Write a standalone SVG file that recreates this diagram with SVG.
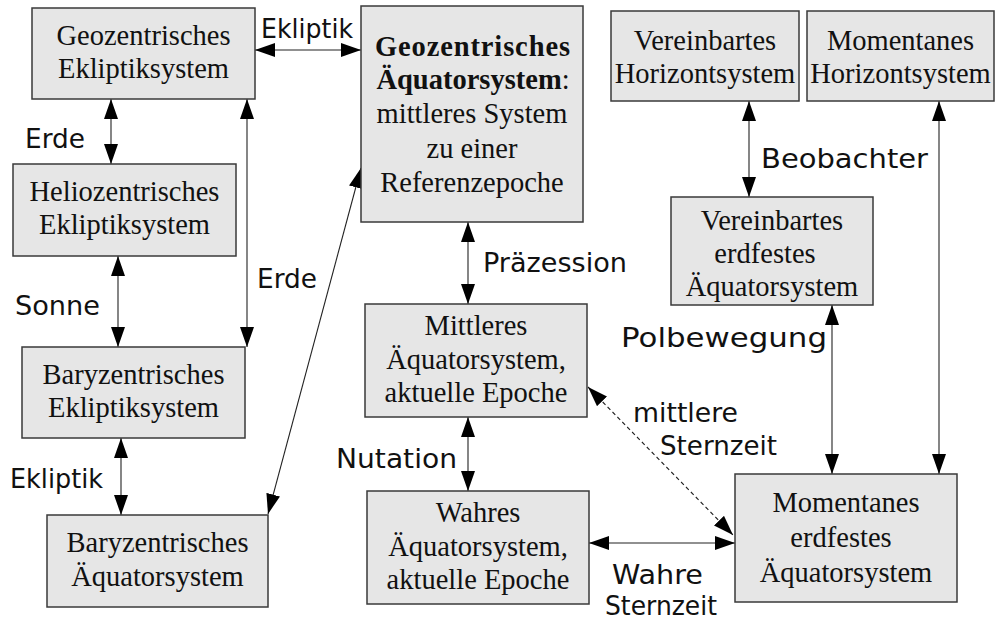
<svg xmlns="http://www.w3.org/2000/svg" width="995" height="621" viewBox="0 0 995 621">
  <style>
    .box { fill: #e6e6e6; stroke: #3a3a3a; stroke-width: 1.5; }
    .t { font-family: "Liberation Serif", "Times New Roman", serif; font-size: 28.5px; fill: #111; text-anchor: middle; }
    .b { font-weight: bold; }
    .l { font-family: "DejaVu Sans", "Liberation Sans", sans-serif; font-size: 26.5px; fill: #111; }
    .c { fill: none; stroke: #222; stroke-width: 1.1; marker-start: url(#arr); marker-end: url(#arr); }
    .d { stroke-dasharray: 4 3; }
  </style>
  <defs>
    <marker id="arr" viewBox="0 0 20 14" refX="20" refY="7" markerWidth="20" markerHeight="14" markerUnits="userSpaceOnUse" orient="auto-start-reverse">
      <path d="M0,0 L20,7 L0,14 z" fill="#000"/>
    </marker>
  </defs>
  <rect width="995" height="621" fill="#fff"/>

  <!-- connectors -->
  <g id="connectors">
    <line class="c" x1="255" y1="50" x2="361" y2="50"/>
    <line class="c" x1="111" y1="99" x2="111" y2="164"/>
    <line class="c" x1="247" y1="99" x2="247" y2="347"/>
    <line class="c" x1="118" y1="256" x2="118" y2="347"/>
    <line class="c" x1="121" y1="438" x2="121" y2="515"/>
    <line class="c" x1="268" y1="514" x2="361" y2="168"/>
    <line class="c" x1="468" y1="222" x2="468" y2="304"/>
    <line class="c" x1="468" y1="417" x2="468" y2="491"/>
    <line class="c d" x1="588" y1="387" x2="733" y2="535"/>
    <line class="c" x1="589" y1="543" x2="735" y2="543"/>
    <line class="c" x1="749" y1="101" x2="749" y2="197"/>
    <line class="c" x1="939" y1="101" x2="939" y2="474"/>
    <line class="c" x1="832" y1="305" x2="832" y2="474"/>

    <text class="l" x="261" y="38" textLength="92" lengthAdjust="spacingAndGlyphs">Ekliptik</text>
    <text class="l" x="25" y="148" textLength="60" lengthAdjust="spacingAndGlyphs">Erde</text>
    <text class="l" x="257" y="288" textLength="60" lengthAdjust="spacingAndGlyphs">Erde</text>
    <text class="l" x="15" y="315" textLength="85" lengthAdjust="spacingAndGlyphs">Sonne</text>
    <text class="l" x="10" y="488" textLength="93" lengthAdjust="spacingAndGlyphs">Ekliptik</text>
    <text class="l" x="483" y="272" textLength="144" lengthAdjust="spacingAndGlyphs">Präzession</text>
    <text class="l" x="336" y="468" textLength="121" lengthAdjust="spacingAndGlyphs">Nutation</text>
    <text class="l" x="761" y="168" textLength="167" lengthAdjust="spacingAndGlyphs">Beobachter</text>
    <text class="l" x="621" y="347" textLength="206" lengthAdjust="spacingAndGlyphs">Polbewegung</text>
    <text class="l" x="633" y="422" textLength="105" lengthAdjust="spacingAndGlyphs">mittlere</text>
    <text class="l" x="660" y="455" textLength="117" lengthAdjust="spacingAndGlyphs">Sternzeit</text>
    <text class="l" x="612" y="584" textLength="91" lengthAdjust="spacingAndGlyphs">Wahre</text>
    <text class="l" x="605" y="615" textLength="112" lengthAdjust="spacingAndGlyphs">Sternzeit</text>
  </g>

  <g id="geo-ekliptik">
    <rect class="box" x="32" y="8" width="223" height="91"/>
    <text class="t" x="143.5" y="45">Geozentrisches</text>
    <text class="t" x="143.5" y="78">Ekliptiksystem</text>
  </g>
  <g id="helio-ekliptik">
    <rect class="box" x="13" y="164" width="223" height="92"/>
    <text class="t" x="124.5" y="201">Heliozentrisches</text>
    <text class="t" x="124.5" y="234">Ekliptiksystem</text>
  </g>
  <g id="bary-ekliptik">
    <rect class="box" x="22" y="347" width="223" height="91"/>
    <text class="t" x="133.5" y="384">Baryzentrisches</text>
    <text class="t" x="133.5" y="417">Ekliptiksystem</text>
  </g>
  <g id="bary-aequator">
    <rect class="box" x="47" y="515" width="221" height="92"/>
    <text class="t" x="157.5" y="552">Baryzentrisches</text>
    <text class="t" x="157.5" y="586">Äquatorsystem</text>
  </g>
  <g id="geo-aequator">
    <rect class="box" x="361" y="6" width="222" height="216"/>
    <text class="t b" x="472.5" y="56" textLength="195" lengthAdjust="spacing">Geozentrisches</text>
    <text class="t" x="473" y="89"><tspan class="b">Äquatorsystem</tspan>:</text>
    <text class="t" x="472" y="123">mittleres System</text>
    <text class="t" x="472" y="158">zu einer</text>
    <text class="t" x="472" y="192">Referenzepoche</text>
  </g>
  <g id="vereinbart-horizont">
    <rect class="box" x="611" y="11" width="188" height="90"/>
    <text class="t" x="705" y="50">Vereinbartes</text>
    <text class="t" x="705" y="83">Horizontsystem</text>
  </g>
  <g id="momentan-horizont">
    <rect class="box" x="807" y="11" width="187" height="90"/>
    <text class="t" x="900.5" y="50">Momentanes</text>
    <text class="t" x="900.5" y="83">Horizontsystem</text>
  </g>
  <g id="vereinbart-erdfest">
    <rect class="box" x="671" y="197" width="202" height="108"/>
    <text class="t" x="772" y="230">Vereinbartes</text>
    <text class="t" x="765" y="263">erdfestes</text>
    <text class="t" x="772" y="296">Äquatorsystem</text>
  </g>
  <g id="mittleres-aequator">
    <rect class="box" x="365" y="304" width="222" height="113"/>
    <text class="t" x="476" y="335">Mittleres</text>
    <text class="t" x="476" y="369">Äquatorsystem,</text>
    <text class="t" x="476" y="402">aktuelle Epoche</text>
  </g>
  <g id="wahres-aequator">
    <rect class="box" x="367" y="491" width="222" height="113"/>
    <text class="t" x="478" y="522">Wahres</text>
    <text class="t" x="478" y="556">Äquatorsystem,</text>
    <text class="t" x="478" y="589">aktuelle Epoche</text>
  </g>
  <g id="momentan-erdfest">
    <rect class="box" x="735" y="474" width="222" height="128"/>
    <text class="t" x="846" y="512">Momentanes</text>
    <text class="t" x="841" y="547">erdfestes</text>
    <text class="t" x="846" y="582">Äquatorsystem</text>
  </g>
</svg>
